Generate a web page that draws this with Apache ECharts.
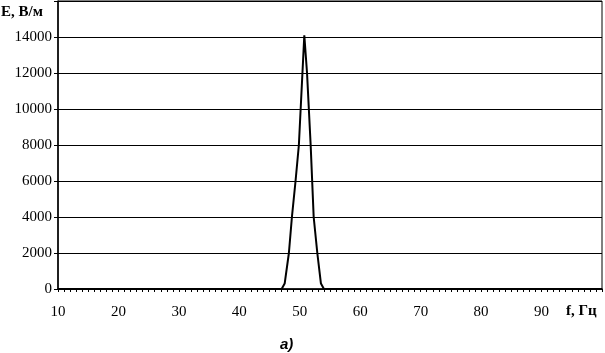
<!DOCTYPE html>
<html>
<head>
<meta charset="utf-8">
<script src="https://cdn.jsdelivr.net/npm/echarts@6/dist/echarts.min.js"></script>
<style>
  html, body { margin: 0; padding: 0; background: #fff; }
  #chart { width: 605px; height: 353px; }
</style>
</head>
<body>
<div id="chart"></div>
<script>
// spectrum (f in Hz, E in V/m)
const freq = [10, 20, 30, 40, 46, 47, 47.5, 48.2, 48.7, 49.3, 49.85, 50.75, 51.2, 51.8, 52.3, 52.9, 53.5, 54, 60, 70, 80, 90, 100];
const field = [0, 0, 0, 0, 0, 0, 300, 2000, 4000, 6000, 8000, 14100, 12000, 8000, 4000, 2000, 300, 0, 0, 0, 0, 0, 0];
const yTicks = [0, 2000, 4000, 6000, 8000, 10000, 12000, 14000];

const points = freq.map((f, i) => [f, field[i]]);
const serif = 'Liberation Serif';

const chart = echarts.init(document.getElementById('chart'));
chart.setOption({
  animation: false,
  grid: {
    left: 58, right: 2, top: 1, bottom: 64,
    show: true, borderColor: '#000', borderWidth: 1
  },
  xAxis: {
    type: 'value',
    min: 10, max: 100, interval: 10,
    axisLine: { lineStyle: { color: '#000', width: 1.5 } },
    axisTick: { show: true, length: 3, lineStyle: { color: '#000' } },
    minorTick: { show: true, splitNumber: 10, length: 3, lineStyle: { color: '#000' } },
    splitLine: { show: false },
    axisLabel: {
      color: '#000', fontFamily: serif, fontSize: 15, margin: 16,
      formatter: v => (v === 100 ? '' : v)
    }
  },
  yAxis: {
    type: 'value',
    min: 0, max: 16000, interval: 2000,
    axisLine: { show: true, lineStyle: { color: '#000', width: 1.5 } },
    axisTick: { show: true, length: 4, lineStyle: { color: '#000' } },
    splitLine: { lineStyle: { color: '#000', width: 1 } },
    axisLabel: {
      color: '#000', fontFamily: serif, fontSize: 15, margin: 6,
      formatter: v => (yTicks.includes(v) ? v : '')
    }
  },
  series: [{
    type: 'line',
    data: points,
    symbol: 'none',
    lineStyle: { color: '#000', width: 2 },
    z: 5
  }],
  graphic: [
    { type: 'text', left: 1, top: 5,
      style: { text: 'E, В/м', font: 'bold 15px "Liberation Serif"', fill: '#000' } },
    { type: 'text', left: 566, top: 304,
      style: { text: 'f, Гц', font: 'bold 15px "Liberation Serif"', fill: '#000' } },
    { type: 'text', left: 280, top: 337,
      style: { text: 'а)', font: 'bold italic 15px "Liberation Sans"', fill: '#000' } }
  ]
});
</script>
</body>
</html>
